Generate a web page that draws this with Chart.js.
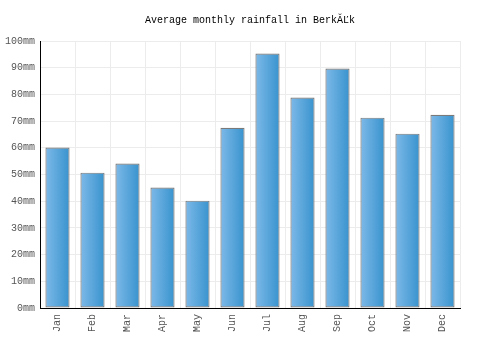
<!DOCTYPE html>
<html>
<head>
<meta charset="utf-8">
<script src="https://cdn.jsdelivr.net/npm/chart.js@4"></script>
<style>
  html, body { margin: 0; padding: 0; background: #fff; }
  #wrap { width: 500px; height: 350px; }
</style>
</head>
<body>
<div id="wrap"><canvas id="graficoChuva" width="500" height="350"></canvas></div>
<script>
const meses = ["Jan", "Feb", "Mar", "Apr", "May", "Jun", "Jul", "Aug", "Sep", "Oct", "Nov", "Dec"];
const chuva = [60.1, 50.7, 54.1, 45.1, 40.2, 67.5, 95.3, 78.8, 89.7, 71.3, 65.3, 72.4];
const ticksY = [0, 10, 20, 30, 40, 50, 60, 70, 80, 90, 100];
const titulo = "Average monthly rainfall in Berk\u0102\u013Dk";

const fonte = "'Liberation Mono', 'DejaVu Sans Mono', monospace";
const larguraBarra = 0.69;

// gradiente horizontal por barra, calculado a partir da escala x
function gradienteBarra(context) {
  const chart = context.chart;
  const escalaX = chart.scales.x;
  if (!chart.chartArea || !escalaX || context.dataIndex === undefined) return "#5aa7de";
  const centro = escalaX.getPixelForValue(context.dataIndex);
  const meia = (escalaX.width / meses.length) * larguraBarra / 2;
  if (!isFinite(centro) || !meia) return "#5aa7de";
  const g = chart.ctx.createLinearGradient(centro - meia, 0, centro + meia, 0);
  g.addColorStop(0, "#7db9e8");
  g.addColorStop(1, "#3893ce");
  return g;
}

const ctx = document.getElementById("graficoChuva").getContext("2d");
new Chart(ctx, {
  type: "bar",
  data: {
    labels: meses,
    datasets: [{
      label: "Rainfall",
      data: chuva,
      backgroundColor: gradienteBarra,
      borderColor: "#7a7a7a",
      borderWidth: 1.2,
      borderSkipped: false,
      barPercentage: larguraBarra,
      categoryPercentage: 1
    }]
  },
  options: {
    responsive: false,
    animation: false,
    layout: { padding: 0 },
    plugins: {
      legend: { display: false },
      tooltip: { enabled: false },
      title: {
        display: true,
        text: titulo,
        color: "#000",
        font: { family: fonte, size: 10, weight: "normal" },
        padding: { top: 14, bottom: 15 }
      }
    },
    scales: {
      x: {
        grid: { color: "#ececec", drawTicks: false, offset: true },
        border: { color: "#000", width: 1 },
        ticks: {
          color: "#555",
          font: { family: fonte, size: 10 },
          minRotation: 90,
          maxRotation: 90,
          padding: 6
        },
        afterFit(scale) { scale.height = 42; }
      },
      y: {
        min: 0,
        max: 100,
        grid: { color: "#ececec", drawTicks: false },
        border: { color: "#000", width: 1 },
        afterBuildTicks(scale) { scale.ticks = ticksY.map(v => ({ value: v })); },
        ticks: {
          color: "#555",
          font: { family: fonte, size: 10 },
          padding: 5,
          callback: v => v + "mm"
        },
        afterFit(scale) { scale.width = 40; }
      },
      // eixo vazio à direita, só para reservar a margem
      margem: {
        axis: "y",
        position: "right",
        min: 0,
        max: 100,
        grid: { display: false, drawOnChartArea: false },
        border: { display: false },
        ticks: { display: false },
        afterFit(scale) { scale.width = 40; }
      }
    }
  }
});
</script>
</body>
</html>
